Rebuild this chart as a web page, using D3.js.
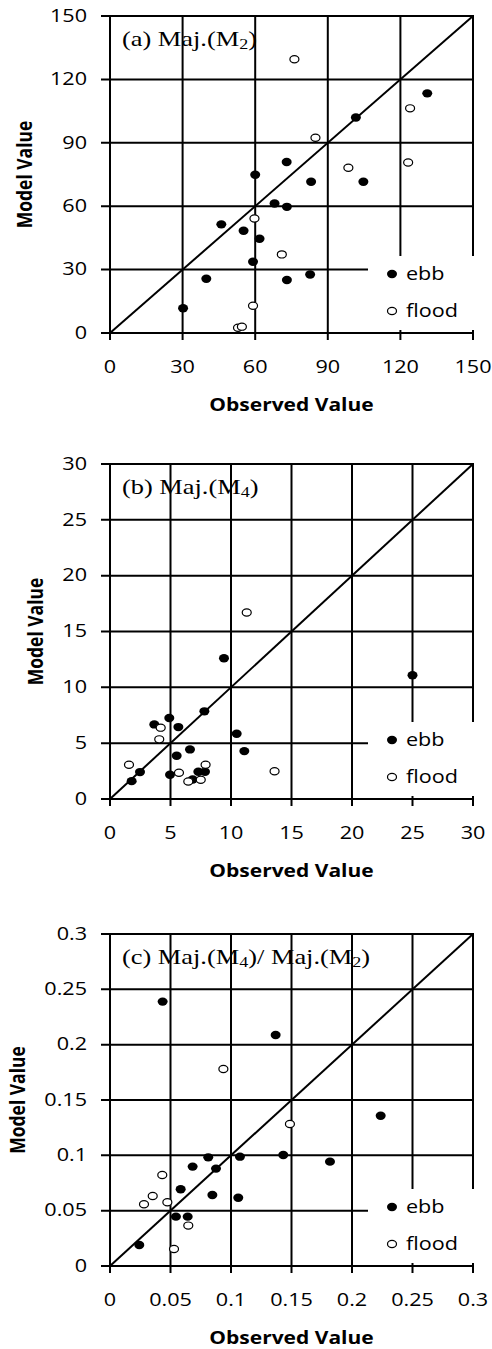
<!DOCTYPE html>
<html>
<head>
<meta charset="utf-8">
<script src="https://cdnjs.cloudflare.com/ajax/libs/d3/7.8.5/d3.min.js"></script>
<style>
  body { margin: 0; background: #fff; }
  svg text { font-family: "Open Sans", sans-serif; fill: #000; }
  .ptitle text, text.ptitle { font-family: "Liberation Serif", "Times New Roman", serif; }
</style>
</head>
<body>
<svg id="chart" width="492" height="1349"></svg>
<script>

// [observed, model] pairs

// (a) Maj.(M2)
var m2Ticks = [0, 30, 60, 90, 120, 150];
var m2Ebb = [
  [131.1, 113.4], [101.6, 102.0], [73.0, 80.9], [60.0, 74.9], [83.1, 71.6],
  [104.7, 71.6], [68.0, 61.3], [73.1, 59.7], [46.0, 51.4], [55.2, 48.4],
  [61.8, 44.6], [59.1, 33.7], [73.1, 25.1], [82.7, 27.7], [39.8, 25.7], [30.2, 11.7]
];
var m2Flood = [
  [76.2, 129.5], [124.0, 106.3], [84.9, 92.4], [123.2, 80.7], [98.5, 78.2],
  [59.7, 54.2], [71.0, 37.2], [59.1, 12.9], [52.9, 2.5], [54.5, 3.0]
];

// (b) Maj.(M4)
var m4Ticks = [0, 5, 10, 15, 20, 25, 30];
var m4Ebb = [
  [9.42, 12.6], [7.8, 7.85], [4.9, 7.25], [3.66, 6.68], [5.65, 6.44],
  [10.47, 5.85], [11.1, 4.29], [6.61, 4.44], [5.51, 3.87], [2.48, 2.41],
  [4.96, 2.17], [1.79, 1.6], [7.3, 2.44], [7.85, 2.44], [6.83, 1.75], [25.0, 11.08]
];
var m4Flood = [
  [11.3, 16.7], [4.19, 6.39], [4.07, 5.34], [1.57, 3.07], [7.9, 3.07],
  [5.7, 2.35], [6.47, 1.57], [7.5, 1.72], [13.6, 2.49]
];

// (c) Maj.(M4)/ Maj.(M2)
var ratioTicks = [0, 0.05, 0.1, 0.15, 0.2, 0.25, 0.3];
var ratioEbb = [
  [0.0435, 0.2389], [0.1369, 0.2088], [0.2237, 0.1358], [0.1074, 0.0988],
  [0.1432, 0.1003], [0.1818, 0.0943], [0.106, 0.0617], [0.0812, 0.0982],
  [0.0683, 0.0898], [0.0876, 0.088], [0.0584, 0.0693], [0.0846, 0.0642],
  [0.0545, 0.0446], [0.0642, 0.0446], [0.0242, 0.019]
];
var ratioFlood = [
  [0.0937, 0.178], [0.1487, 0.1283], [0.0432, 0.0822], [0.0353, 0.0633],
  [0.0281, 0.0558], [0.0474, 0.0576], [0.0647, 0.0365], [0.0529, 0.0154]
];

var legendLabels = ["ebb", "flood"];
var xTitle = "Observed Value", yTitle = "Model Value";

// title pieces: [text, isSubscript]
var panels = [
  { top: 16,  bottom: 333,  ticks: m2Ticks,    ebb: m2Ebb,    flood: m2Flood,
    title: [["(a) Maj.(M", 0], ["2", 1], [")", 0]], yTitleX: 32 },
  { top: 464, bottom: 799,  ticks: m4Ticks,    ebb: m4Ebb,    flood: m4Flood,
    title: [["(b) Maj.(M", 0], ["4", 1], [")", 0]], yTitleX: 43 },
  { top: 934, bottom: 1266, ticks: ratioTicks, ebb: ratioEbb, flood: ratioFlood,
    title: [["(c) Maj.(M", 0], ["4", 1], [")/ Maj.(M", 0], ["2", 1], [")", 0]], yTitleX: 25 }
];

var left = 110, right = 473;
var sx = 1.2;   // the figure is a bit stretched sideways, text too

var svg = d3.select("#chart");

function drawPoints(g, data, x, y, filled) {
  g.selectAll(null).data(data).enter().append("ellipse")
    .attr("cx", function(d) { return x(d[0]); })
    .attr("cy", function(d) { return y(d[1]); })
    .attr("rx", filled ? 5 : 4.5)
    .attr("ry", filled ? 4.2 : 3.6)
    .attr("fill", filled ? "#000" : "#fff")
    .attr("stroke", "#000")
    .attr("stroke-width", filled ? 0 : 1.2);
}

panels.forEach(function(p) {
  var max = p.ticks[p.ticks.length - 1];
  var x = d3.scaleLinear().domain([0, max]).range([left, right]);
  var y = d3.scaleLinear().domain([0, max]).range([p.bottom, p.top]);
  var g = svg.append("g");

  // gridlines come from the ticks, running out past the axes a little
  var xAxis = d3.axisBottom(x).tickValues(p.ticks).tickFormat(String)
    .tickSize(-(p.bottom - p.top + 6)).tickPadding(21).offset(0);
  var yAxis = d3.axisLeft(y).tickValues(p.ticks).tickFormat(String)
    .tickSize(-(right - left + 8)).tickPadding(12.5).offset(0);

  var gx = g.append("g").attr("transform", "translate(0," + (p.bottom + 6) + ")").call(xAxis);
  var gy = g.append("g").attr("transform", "translate(" + (left - 8) + ",0)").call(yAxis);

  [gx, gy].forEach(function(a) {
    a.select(".domain").remove();
    a.selectAll("line").attr("stroke", "#000").attr("stroke-width", 2)
      .attr("stroke-linecap", "square");
    a.selectAll("text").attr("font-size", 18).attr("font-family", "Open Sans")
      .attr("transform", "scale(" + sx + ",1)");
  });

  // 1:1 line
  g.append("line")
    .attr("x1", x(0)).attr("y1", y(0))
    .attr("x2", x(max)).attr("y2", y(max))
    .attr("stroke", "#000").attr("stroke-width", 2);

  drawPoints(g, p.ebb, x, y, true);
  drawPoints(g, p.flood, x, y, false);

  // panel title
  var t = g.append("text").attr("class", "ptitle")
    .attr("transform", "translate(" + (left + 12) + "," + (p.top + 30) + ") scale(" + sx + ",1)")
    .attr("font-size", 22);
  p.title.forEach(function(s, i) {
    var prevSub = i > 0 && p.title[i - 1][1];
    t.append("tspan")
      .attr("font-size", s[1] ? 15 : 22)
      .attr("dy", s[1] ? 3 : (prevSub ? -3 : 0))
      .text(s[0]);
  });

  // axis titles
  g.append("text")
    .attr("transform", "translate(" + ((left + right) / 2) + "," + (p.bottom + 78) + ") scale(" + sx + ",1)")
    .attr("text-anchor", "middle").attr("font-weight", "bold").attr("font-size", 17.5)
    .text(xTitle);
  g.append("text")
    .attr("transform", "translate(" + p.yTitleX + "," + ((p.top + p.bottom) / 2) + ") scale(" + sx + ",1) rotate(-90)")
    .attr("text-anchor", "middle").attr("font-weight", "bold").attr("font-size", 17.5)
    .text(yTitle);

  // legend with a white box over the grid
  var lg = g.append("g");
  lg.append("rect")
    .attr("x", 368).attr("y", p.bottom - 77)
    .attr("width", 108).attr("height", 74)
    .attr("fill", "#fff");
  legendLabels.forEach(function(name, i) {
    var cy = p.bottom - 59 + i * 37;
    lg.append("ellipse")
      .attr("cx", 392).attr("cy", cy)
      .attr("rx", i === 0 ? 5 : 4.5).attr("ry", i === 0 ? 4.2 : 3.6)
      .attr("fill", i === 0 ? "#000" : "#fff")
      .attr("stroke", "#000").attr("stroke-width", i === 0 ? 0 : 1.2);
    lg.append("text")
      .attr("transform", "translate(406," + (cy + 6) + ") scale(" + sx + ",1)")
      .attr("font-size", 18)
      .text(name);
  });
});

</script>
</body>
</html>
